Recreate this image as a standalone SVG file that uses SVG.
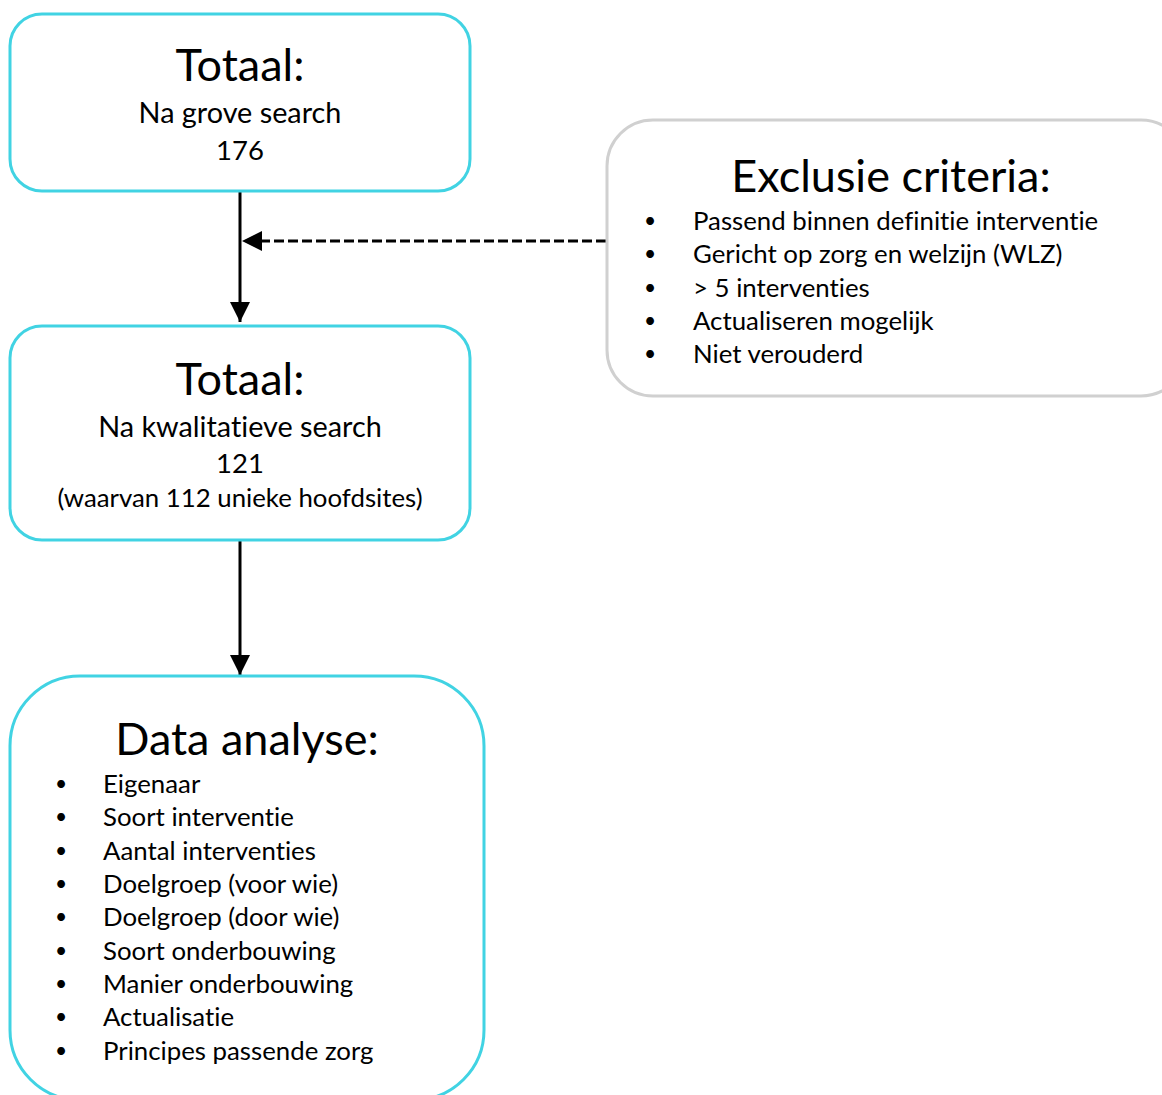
<svg xmlns="http://www.w3.org/2000/svg" width="1162" height="1095" viewBox="0 0 1162 1095">
<style>
.box{fill:#fff;stroke:#41d3e3;stroke-width:3}
.gbox{fill:#fff;stroke:#d0d0d0;stroke-width:3}
text{font-family:Lato,"Open Sans","Liberation Sans",sans-serif;fill:#000;font-variant-ligatures:none;font-feature-settings:"liga" 0,"clig" 0}
.t{font-size:45px;text-anchor:middle}
.s{font-size:28.8px;text-anchor:middle}
.n{font-size:27.5px;text-anchor:middle}
.b{font-size:25.8px;text-anchor:middle}
.l{font-size:25.8px}
.d{font-size:21px;text-anchor:middle}
.conn{stroke:#000;stroke-width:3;fill:none}
</style>
<defs>
<marker id="ah" markerWidth="20" markerHeight="20" refX="20" refY="10" orient="auto" markerUnits="userSpaceOnUse">
<path d="M0,0 L20,10 L0,20 Z" fill="#000"/>
</marker>
</defs>
<rect width="1162" height="1095" fill="#fff"/>
<g id="connectors">
<line class="conn" x1="240" y1="191" x2="240" y2="322" marker-end="url(#ah)"/>
<line class="conn" x1="240" y1="541" x2="240" y2="675" marker-end="url(#ah)"/>
<line class="conn" x1="606" y1="241" x2="242" y2="241" stroke-dasharray="10 4" marker-end="url(#ah)"/>
</g>
<g id="node-totaal1">
<rect class="box" x="10" y="14" width="460" height="177" rx="32"/>
<text class="t" x="240" y="81">Totaal:</text>
<text class="s" x="240" y="123">Na grove search</text>
<text class="n" x="240" y="160">176</text>
</g>
<g id="node-totaal2">
<rect class="box" x="10" y="326" width="460" height="214" rx="32"/>
<text class="t" x="240" y="395">Totaal:</text>
<text class="s" x="240" y="437">Na kwalitatieve search</text>
<text class="n" x="240" y="473">121</text>
<text class="b" x="240" y="507">(waarvan 112 unieke hoofdsites)</text>
</g>
<g id="node-exclusie">
<rect class="gbox" x="607" y="120" width="580" height="276" rx="46"/>
<text class="t" x="891" y="192">Exclusie criteria:</text>
<text class="d" x="650" y="228">•</text><text class="l" x="693" y="230">Passend binnen definitie interventie</text>
<text class="d" x="650" y="261">•</text><text class="l" x="693" y="263">Gericht op zorg en welzijn (WLZ)</text>
<text class="d" x="650" y="295">•</text><text class="l" x="693" y="297">&gt; 5 interventies</text>
<text class="d" x="650" y="328">•</text><text class="l" x="693" y="330">Actualiseren mogelijk</text>
<text class="d" x="650" y="361">•</text><text class="l" x="693" y="363">Niet verouderd</text>
</g>
<g id="node-data">
<rect class="box" x="10" y="676" width="474" height="424" rx="70"/>
<text class="t" x="247" y="755">Data analyse:</text>
<text class="d" x="61" y="791">•</text><text class="l" x="103" y="793">Eigenaar</text>
<text class="d" x="61" y="824">•</text><text class="l" x="103" y="826">Soort interventie</text>
<text class="d" x="61" y="858">•</text><text class="l" x="103" y="860">Aantal interventies</text>
<text class="d" x="61" y="891">•</text><text class="l" x="103" y="893">Doelgroep (voor wie)</text>
<text class="d" x="61" y="924">•</text><text class="l" x="103" y="926">Doelgroep (door wie)</text>
<text class="d" x="61" y="958">•</text><text class="l" x="103" y="960">Soort onderbouwing</text>
<text class="d" x="61" y="991">•</text><text class="l" x="103" y="993">Manier onderbouwing</text>
<text class="d" x="61" y="1024">•</text><text class="l" x="103" y="1026">Actualisatie</text>
<text class="d" x="61" y="1058">•</text><text class="l" x="103" y="1060">Principes passende zorg</text>
</g>
</svg>
